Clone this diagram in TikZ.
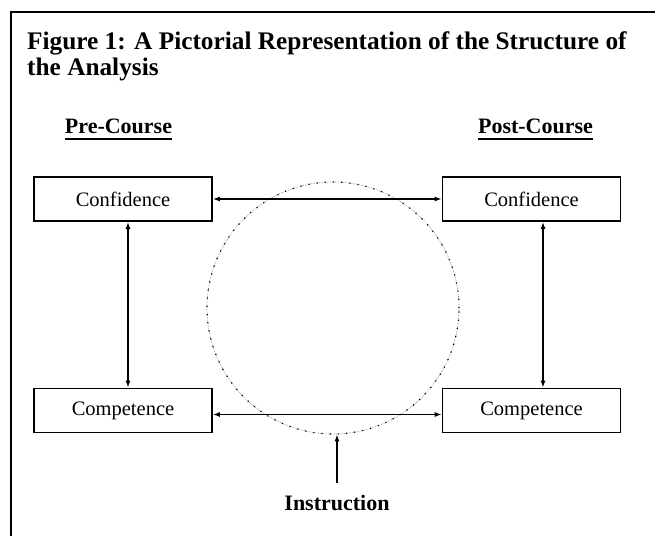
\documentclass[tikz,border=0pt]{standalone}
\usepackage{fontspec}
\setmainfont{Liberation Serif}
\usetikzlibrary{shapes,arrows.meta}
\tikzstyle{bx}=[rectangle,draw=black,line width=1.6pt,minimum width=178pt,minimum height=44pt,inner sep=0pt,font=\fontsize{20.5}{22}\selectfont]
\tikzstyle{hd}=[inner sep=0pt,anchor=base,font=\fontsize{22}{23}\selectfont\bfseries]
\tikzstyle{ttl}=[inner sep=0pt,anchor=base west,font=\fontsize{25.3}{26}\selectfont\bfseries]
\tikzstyle{ln}=[line width=1.4pt,{Latex[length=7pt,width=5pt]}-{Latex[length=7pt,width=5pt]}]

\begin{document}
\begin{tikzpicture}[x=1pt,y=-1pt]
\useasboundingbox (0,0) rectangle (655,536);
% frame
\draw[line width=2pt] (11,536) -- (11,12) -- (655,12);
\node[ttl] (title) at (27,49) {Figure 1: A Pictorial Representation of the Structure of};
\node[ttl] (title2) at (27,75) {the Analysis};
% column headings
\node[hd] (pre) at (118.5,133) {Pre-Course};
\node[hd] (post) at (535.5,133) {Post-Course};
\draw[line width=1.8pt] ([yshift=-6pt]pre.base west) -- ([yshift=-6pt]pre.base east);
\draw[line width=1.8pt] ([yshift=-6pt]post.base west) -- ([yshift=-6pt]post.base east);
% the ring
\node[circle,minimum size=252pt,inner sep=0pt,draw=gray,line width=.6pt,densely dotted] (cycle) at (333,308) {};
\draw[line width=1.2pt,dash pattern=on 1.2pt off 7pt] (cycle) circle (126pt);
% boxes
\node[bx] (cnfL) at (123,199) {Confidence};
\node[bx] (cnfR) at (531.5,199) {Confidence};
\node[bx] (cmpL) at (123,410.5) {Competence};
\node[bx] (cmpR) at (531.5,410.5) {Competence};
\node[hd] (instr) at (337,510) {Instruction};
% arrows
\draw[ln] (cnfL.east) -- (cnfR.west);
\draw[ln] ([yshift=-4pt]cmpL.east) -- ([yshift=-4pt]cmpR.west);
\draw[ln] ([xshift=5pt]cnfL.south) -- ([xshift=5pt]cmpL.north);
\draw[ln] ([xshift=11.5pt]cnfR.south) -- ([xshift=11.5pt]cmpR.north);
\draw[line width=1.4pt,-{Latex[length=7pt,width=5pt]},shorten <=12pt] (instr.north) -- (instr.north |- cycle.south);
\end{tikzpicture}
\end{document}
